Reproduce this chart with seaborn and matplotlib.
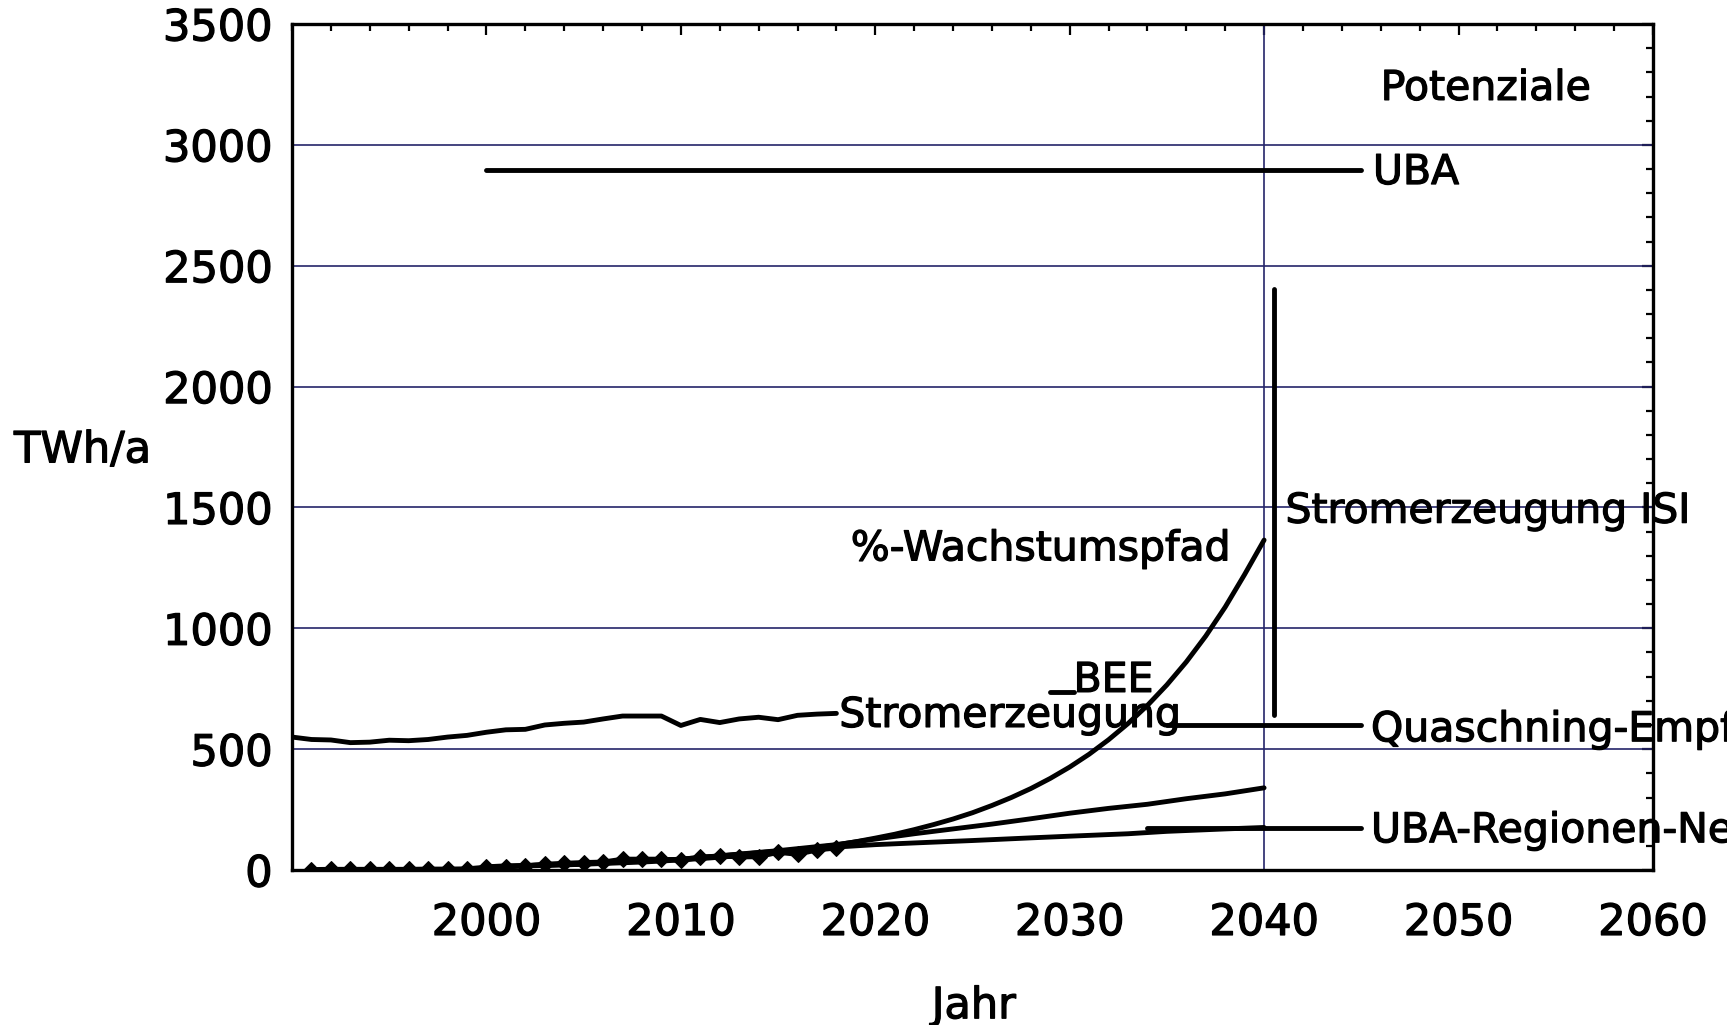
import numpy as np
import pandas as pd
import matplotlib
matplotlib.use("Agg")
import matplotlib.pyplot as plt
import matplotlib.patheffects as pe
import seaborn as sns
from matplotlib.ticker import MultipleLocator

# gross electricity production (historic)
strom_years = list(range(1990, 2019))
strom_vals = [550, 540, 538, 527, 529, 537, 535, 540, 550, 557, 570, 580, 582, 600, 607, 612, 625, 637, 637, 637,
              598, 623, 610, 625, 632, 622, 640, 645, 648]

# renewable production (markers)
ee_years = list(range(1991, 2019))
ee_vals = [2, 3, 3, 3, 3, 3, 4, 4, 5, 12, 12, 18, 24, 28, 31, 33, 45, 45, 45, 40,
           52, 58, 54, 55, 73, 65, 83, 91]

# scenario paths
wachs_years = list(range(2000, 2041))
wachs_vals = [14, 15, 17, 19, 21, 24, 27, 30, 33, 37, 42, 47, 53, 59, 66, 74, 83, 93, 104, 117,
              132, 148, 167, 188, 211, 237, 267, 300, 337, 379, 426, 479, 539, 606, 681, 766,
              861, 968, 1088, 1223, 1365]

mid_years = [2000, 2005, 2010, 2015, 2018, 2020, 2022, 2024, 2026, 2028, 2030, 2032, 2034, 2036, 2038, 2040]
mid_vals = [14, 25, 45, 80, 105, 128, 150, 170, 190, 212, 235, 255, 272, 295, 315, 340]

low_years = [2000, 2005, 2010, 2015, 2018, 2020, 2022, 2025, 2028, 2030, 2033, 2035, 2038, 2040]
low_vals = [14, 25, 45, 78, 95, 105, 112, 122, 133, 140, 150, 160, 170, 176]

# potentials
uba_x, uba_y = [2000, 2045], [2895, 2895]
quasch_x, quasch_y = [2035, 2045], [600, 600]
region_x, region_y = [2034, 2045], [172, 172]
bee_x, bee_y = [2029, 2030.2], [737, 737]
isi_x, isi_y = [2040.5, 2040.5], [640, 2405]

sns.set_style("white")
plt.rcParams['font.family'] = ['DejaVu Sans']
plt.rcParams['text.color'] = 'black'
plt.rcParams['xtick.color'] = 'black'
plt.rcParams['ytick.color'] = 'black'
plt.rcParams['axes.labelcolor'] = 'black'

fig = plt.figure(figsize=(17.27, 10.25), dpi=100)
ax = fig.add_axes([0.1691, 0.1512, 0.788, 0.8254])

navy = "#25256a"
for y in [500, 1000, 1500, 2000, 2500, 3000]:
    ax.axhline(y, color=navy, lw=1.2, zorder=1)
ax.axvline(2040, color=navy, lw=1.2, zorder=1)

lw = 3.5
kw = dict(color="black", lw=lw, ax=ax, estimator=None, sort=False, zorder=3)
sns.lineplot(x=strom_years, y=strom_vals, **kw)
sns.lineplot(x=ee_years, y=ee_vals, marker="D", markersize=8, markeredgecolor="black", **kw)
sns.lineplot(x=wachs_years, y=wachs_vals, **kw)
sns.lineplot(x=mid_years, y=mid_vals, **kw)
sns.lineplot(x=low_years, y=low_vals, **kw)
sns.lineplot(x=uba_x, y=uba_y, **kw)
sns.lineplot(x=quasch_x, y=quasch_y, **kw)
sns.lineplot(x=region_x, y=region_y, **kw)
sns.lineplot(x=bee_x, y=bee_y, **kw)
sns.lineplot(x=isi_x, y=isi_y, **kw)

bold = [pe.withStroke(linewidth=0.9, foreground="black")]
fs = 29.5
txt = dict(fontsize=fs, color="black", va="baseline", zorder=4, path_effects=bold)
ax.text(2018.15, 592, "Stromerzeugung", ha="left", **txt)
ax.text(2030.2, 737, "BEE", ha="left", **txt)
ax.text(2038.3, 1281, "%-Wachstumspfad", ha="right", **txt)
ax.text(2041.1, 1437, "Stromerzeugung ISI", ha="left", **txt)
ax.text(2045.5, 533, "Quaschning-Empfehlung", ha="left", **txt)
ax.text(2045.5, 115, "UBA-Regionen-Netzwerk", ha="left", **txt)
ax.text(2045.6, 2838, "UBA", ha="left", **txt)
ax.text(2046.0, 3186, "Potenziale", ha="left", **txt)

ax.set_xlim(1990, 2060)
ax.set_ylim(0, 3500)
ax.xaxis.set_major_locator(MultipleLocator(10))
ax.xaxis.set_minor_locator(MultipleLocator(2))
ax.yaxis.set_major_locator(MultipleLocator(500))
ax.yaxis.set_minor_locator(MultipleLocator(100))
ax.set_xticks([2000, 2010, 2020, 2030, 2040, 2050, 2060])
ax.set_xticklabels(["2000", "2010", "2020", "2030", "2040", "2050", "2060"])
tfs = 31
ax.tick_params(which="both", direction="in", top=True, right=True, width=1.6, color="black")
ax.tick_params(which="major", length=8)
ax.tick_params(which="minor", length=5)
ax.tick_params(axis="x", which="major", pad=23, labelsize=tfs)
ax.tick_params(axis="y", which="major", pad=14, labelsize=tfs)
for lab in ax.get_xticklabels() + ax.get_yticklabels():
    lab.set_path_effects(bold)
for s in ax.spines.values():
    s.set_visible(True)
    s.set_color("black")
    s.set_linewidth(2.4)

ax.set_xlabel("Jahr", fontsize=tfs, va="center", path_effects=bold)
ax.set_ylabel("TWh/a", fontsize=tfs, rotation=0, ha="center", va="center", path_effects=bold)
ax.xaxis.set_label_coords(0.501, -0.161)
ax.yaxis.set_label_coords(-0.154, 0.496)

fig.savefig("out.png", dpi=100)
